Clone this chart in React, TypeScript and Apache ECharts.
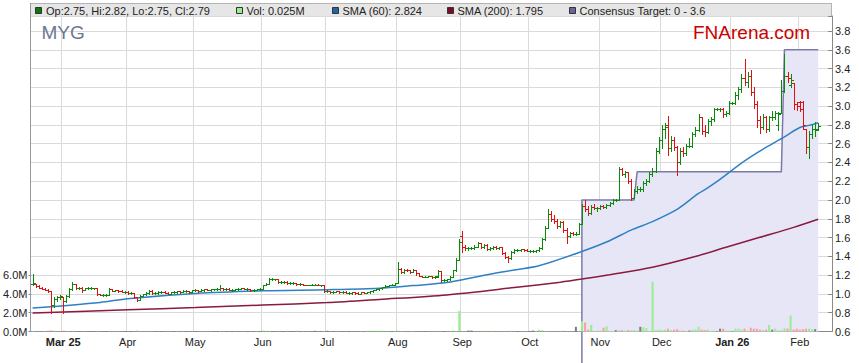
import React, { useEffect, useRef } from 'react';
import * as echarts from 'echarts';

// ---------- data ----------
const START_DATE = Date.UTC(2025, 1, 17); // first weekday shown
const TOTAL_SLOTS = 261; // weekdays on the axis (incl. a few empty ones at the end)

const monthLabels = ['Mar 25', 'Apr', 'May', 'Jun', 'Jul', 'Aug', 'Sep', 'Oct', 'Nov', 'Dec', 'Jan 26', 'Feb'];
const priceMin = 0.6;
const priceMax = 3.96;
const priceStep = 0.2;
const volMax = 6;
const volStep = 2;

// [open, high, low, close]
const ohlc: number[][] = [
  [1.11,1.21,1.10,1.12],[1.11,1.11,1.07,1.08],[1.08,1.09,1.06,1.06],[1.06,1.07,1.05,1.05],[1.05,1.06,1.04,1.04],
  [1.04,1.05,1.02,1.03],[1.03,1.03,0.80,0.88],[0.88,0.97,0.86,0.95],[0.95,0.98,0.93,0.97],[0.97,0.99,0.95,0.98],
  [0.97,0.97,0.80,0.92],[0.92,0.99,0.91,0.98],[0.98,1.06,0.97,1.05],[1.05,1.13,1.04,1.11],[1.11,1.11,1.05,1.06],
  [1.06,1.07,1.05,1.06],[1.06,1.07,1.02,1.04],[1.04,1.06,1.04,1.06],[1.06,1.07,1.05,1.06],[1.06,1.07,1.05,1.06],
  [1.06,1.06,1.05,1.06],[1.06,1.06,0.99,1.00],[1.00,1.00,0.99,0.99],[0.99,1.00,0.98,0.99],[0.99,1.00,0.98,0.99],
  [0.99,1.06,0.99,1.05],[1.05,1.05,1.03,1.03],[1.03,1.04,1.03,1.04],[1.04,1.04,1.02,1.03],[1.03,1.04,1.02,1.02],
  [1.02,1.03,1.01,1.02],[1.02,1.03,1.00,1.01],[1.01,1.02,1.00,1.01],[1.01,1.01,0.96,0.97],[0.97,0.97,0.93,0.94],
  [0.94,0.99,0.94,0.98],[0.98,1.00,0.98,1.00],[1.00,1.02,0.99,1.01],[1.01,1.04,1.00,1.03],[1.03,1.04,1.00,1.01],
  [1.01,1.02,1.00,1.01],[1.01,1.03,1.00,1.02],[1.02,1.03,1.01,1.02],[1.02,1.03,1.01,1.01],[1.01,1.02,1.00,1.00],
  [1.00,1.02,1.00,1.02],[1.02,1.03,1.01,1.02],[1.02,1.03,1.01,1.03],[1.03,1.03,1.01,1.02],[1.02,1.04,1.02,1.03],
  [1.03,1.04,1.02,1.03],[1.03,1.03,1.01,1.02],[1.02,1.04,1.02,1.04],[1.04,1.05,1.03,1.04],[1.04,1.04,1.02,1.03],
  [1.03,1.05,1.03,1.04],[1.04,1.05,1.03,1.05],[1.05,1.05,1.04,1.04],[1.04,1.05,1.03,1.05],[1.05,1.05,1.04,1.05],
  [1.05,1.06,1.04,1.05],[1.05,1.09,1.04,1.06],[1.06,1.06,1.04,1.05],[1.05,1.06,1.04,1.05],[1.05,1.06,1.04,1.04],
  [1.04,1.05,1.03,1.04],[1.04,1.05,1.04,1.05],[1.05,1.06,1.04,1.05],[1.05,1.06,1.05,1.06],[1.06,1.06,1.05,1.05],
  [1.05,1.06,1.04,1.05],[1.05,1.05,1.03,1.04],[1.04,1.05,1.03,1.04],[1.04,1.05,1.04,1.05],[1.05,1.06,1.04,1.05],
  [1.05,1.10,1.05,1.09],[1.09,1.12,1.09,1.11],[1.11,1.17,1.11,1.16],[1.16,1.17,1.15,1.16],[1.16,1.16,1.15,1.16],
  [1.16,1.16,1.12,1.13],[1.13,1.14,1.12,1.13],[1.13,1.14,1.12,1.13],[1.13,1.14,1.11,1.12],[1.12,1.13,1.11,1.12],
  [1.12,1.13,1.11,1.12],[1.12,1.12,1.10,1.11],[1.11,1.12,1.10,1.11],[1.11,1.11,1.09,1.10],[1.10,1.10,1.09,1.09],
  [1.09,1.10,1.09,1.10],[1.10,1.11,1.09,1.10],[1.10,1.11,1.09,1.10],[1.10,1.11,1.09,1.09],[1.09,1.10,1.08,1.09],
  [1.09,1.10,1.02,1.03],[1.03,1.04,1.02,1.03],[1.03,1.03,1.01,1.02],[1.02,1.03,1.01,1.02],[1.02,1.03,1.02,1.03],
  [1.03,1.03,1.01,1.02],[1.02,1.03,1.01,1.02],[1.02,1.03,1.01,1.01],[1.01,1.02,1.00,1.01],[1.01,1.02,1.00,1.02],
  [1.02,1.02,1.00,1.01],[1.01,1.02,1.00,1.00],[1.00,1.02,1.00,1.02],[1.02,1.02,1.01,1.01],[1.01,1.02,1.01,1.02],
  [1.02,1.03,1.01,1.03],[1.03,1.04,1.02,1.04],[1.04,1.05,1.04,1.05],[1.05,1.06,1.04,1.06],[1.06,1.07,1.05,1.07],
  [1.07,1.09,1.07,1.08],[1.08,1.10,1.08,1.10],[1.10,1.11,1.09,1.10],[1.10,1.12,1.10,1.12],[1.12,1.34,1.12,1.27],
  [1.27,1.28,1.22,1.23],[1.23,1.27,1.22,1.26],[1.26,1.27,1.24,1.25],[1.25,1.26,1.22,1.23],[1.23,1.27,1.23,1.26],
  [1.26,1.26,1.20,1.22],[1.22,1.22,1.19,1.19],[1.19,1.19,1.18,1.18],[1.18,1.19,1.18,1.18],[1.18,1.19,1.18,1.19],
  [1.19,1.19,1.17,1.18],[1.18,1.19,1.17,1.19],[1.18,1.25,1.18,1.24],[1.24,1.24,1.13,1.15],[1.15,1.16,1.14,1.15],
  [1.15,1.16,1.14,1.16],[1.16,1.19,1.15,1.18],[1.18,1.26,1.18,1.25],[1.25,1.38,1.24,1.36],[1.36,1.58,1.36,1.55],
  [1.62,1.67,1.45,1.50],[1.50,1.52,1.47,1.49],[1.49,1.50,1.47,1.49],[1.49,1.50,1.48,1.49],[1.49,1.52,1.48,1.50],
  [1.50,1.55,1.50,1.54],[1.54,1.54,1.49,1.50],[1.50,1.53,1.49,1.52],[1.52,1.53,1.47,1.48],[1.48,1.50,1.47,1.49],
  [1.49,1.51,1.48,1.50],[1.50,1.51,1.48,1.49],[1.49,1.50,1.48,1.50],[1.50,1.50,1.43,1.44],[1.44,1.45,1.38,1.39],
  [1.39,1.40,1.34,1.38],[1.38,1.46,1.37,1.45],[1.45,1.48,1.44,1.47],[1.47,1.48,1.46,1.47],[1.47,1.48,1.46,1.48],
  [1.48,1.48,1.46,1.47],[1.47,1.48,1.46,1.46],[1.46,1.47,1.45,1.46],[1.46,1.47,1.45,1.46],[1.46,1.47,1.45,1.47],
  [1.47,1.50,1.46,1.49],[1.49,1.60,1.48,1.58],[1.58,1.72,1.57,1.70],[1.70,1.90,1.70,1.85],[1.85,1.88,1.78,1.80],
  [1.80,1.84,1.76,1.78],[1.78,1.80,1.70,1.72],[1.72,1.78,1.71,1.77],[1.77,1.78,1.66,1.68],[1.68,1.70,1.54,1.62],
  [1.62,1.66,1.61,1.65],[1.65,1.66,1.63,1.64],[1.64,1.66,1.63,1.64],[1.64,1.76,1.64,1.75],[1.75,1.96,1.74,1.94],
  [1.94,2.00,1.88,1.90],[1.90,1.94,1.84,1.86],[1.86,1.95,1.85,1.93],[1.93,1.96,1.90,1.91],[1.91,1.93,1.88,1.92],
  [1.92,1.95,1.90,1.94],[1.94,1.95,1.92,1.93],[1.93,1.96,1.92,1.95],[1.95,1.98,1.94,1.97],[1.97,2.01,1.96,2.00],
  [2.00,2.01,1.99,2.00],[2.00,2.35,2.00,2.33],[2.33,2.34,2.27,2.28],[2.28,2.31,2.25,2.30],[2.30,2.30,2.18,2.20],
  [2.20,2.22,2.00,2.02],[2.02,2.12,2.02,2.10],[2.10,2.15,2.08,2.12],[2.12,2.14,2.10,2.12],[2.12,2.20,2.10,2.18],
  [2.18,2.22,2.16,2.20],[2.20,2.30,2.19,2.28],[2.28,2.34,2.26,2.31],[2.31,2.55,2.30,2.52],[2.52,2.67,2.50,2.64],
  [2.64,2.80,2.55,2.76],[2.76,2.82,2.66,2.78],[2.80,2.90,2.48,2.55],[2.55,2.68,2.52,2.64],[2.64,2.67,2.53,2.56],
  [2.56,2.58,2.27,2.40],[2.40,2.55,2.38,2.52],[2.52,2.56,2.47,2.50],[2.50,2.60,2.48,2.58],[2.58,2.66,2.56,2.58],
  [2.58,2.72,2.57,2.70],[2.70,2.78,2.68,2.75],[2.75,2.92,2.74,2.88],[2.88,2.88,2.70,2.74],[2.74,2.80,2.68,2.72],
  [2.72,2.86,2.71,2.84],[2.84,2.88,2.80,2.86],[2.86,2.98,2.84,2.97],[2.97,2.98,2.96,2.97],[2.97,2.98,2.95,2.97],
  [2.97,2.98,2.88,2.92],[2.92,2.95,2.90,2.93],[2.93,3.05,2.92,3.03],[3.03,3.04,3.02,3.03],[3.03,3.15,3.02,3.12],
  [3.12,3.20,3.08,3.18],[3.18,3.34,3.15,3.30],[3.30,3.50,3.22,3.26],[3.26,3.36,3.20,3.32],[3.32,3.38,3.12,3.15],
  [3.15,3.20,2.98,3.02],[3.02,3.05,2.78,2.85],[2.85,2.90,2.71,2.78],[2.78,2.92,2.76,2.88],[2.88,2.90,2.72,2.76],
  [2.76,2.90,2.74,2.88],[2.88,2.95,2.85,2.88],[2.88,2.95,2.86,2.93],[2.80,2.94,2.75,2.92],[2.93,3.28,2.93,3.16],
  [3.16,3.55,3.15,3.32],[3.32,3.36,3.26,3.30],[3.22,3.34,3.20,3.28],[3.25,3.25,2.97,3.02],[3.02,3.04,2.96,3.00],
  [3.04,3.05,2.95,2.97],[3.04,3.05,2.76,2.80],[2.76,2.76,2.50,2.56],[2.56,2.74,2.45,2.70],[2.70,2.80,2.66,2.76],
  [2.76,2.83,2.68,2.76],[2.75,2.82,2.75,2.79],
];

// daily volume, millions
const volume: number[] = [
  0.04,0.03,0.03,0.03,0.05,0.10,0.12,0.08,0.03,0.03,
  0.10,0.04,0.03,0.05,0.03,0.03,0.04,0.03,0.03,0.03,
  0.03,0.04,0.03,0.03,0.03,0.04,0.03,0.03,0.03,0.03,
  0.03,0.03,0.03,0.04,0.10,0.04,0.03,0.03,0.04,0.03,
  0.03,0.03,0.03,0.03,0.03,0.03,0.03,0.03,0.03,0.03,
  0.03,0.03,0.03,0.03,0.03,0.03,0.03,0.03,0.03,0.03,
  0.03,0.05,0.03,0.03,0.03,0.03,0.03,0.03,0.03,0.03,
  0.03,0.03,0.03,0.03,0.03,0.10,0.08,0.06,0.03,0.03,
  0.04,0.03,0.03,0.08,0.03,0.03,0.08,0.03,0.03,0.03,
  0.03,0.03,0.08,0.03,0.03,0.05,0.08,0.03,0.03,0.03,
  0.03,0.03,0.03,0.03,0.03,0.03,0.03,0.03,0.03,0.08,
  0.08,0.08,0.08,0.08,0.08,0.04,0.04,0.04,0.06,0.10,
  0.05,0.04,0.03,0.03,0.04,0.03,0.03,0.03,0.03,0.03,
  0.03,0.03,0.04,0.05,0.03,0.03,0.04,0.10,0.06,2.20,
  0.06,0.04,0.10,0.10,0.03,0.04,0.03,0.08,0.04,0.03,
  0.08,0.03,0.03,0.04,0.05,0.04,0.08,0.04,0.03,0.03,
  0.03,0.03,0.03,0.10,0.04,0.20,0.15,0.05,0.06,0.04,
  0.04,0.03,0.08,0.08,0.05,0.03,0.03,0.50,0.05,1.10,
  0.95,0.20,0.70,0.05,0.10,0.10,0.40,0.55,0.05,0.05,
  0.15,0.15,0.15,0.10,0.15,0.10,0.15,0.10,0.50,0.45,
  0.35,0.05,5.30,0.15,0.20,0.15,0.20,0.30,0.15,0.20,
  0.25,0.10,0.10,0.05,0.10,0.20,0.20,0.50,0.20,0.15,
  0.20,0.05,0.10,0.05,0.30,0.30,0.10,0.10,0.05,0.30,
  0.30,0.20,0.30,0.10,0.40,0.30,0.30,0.20,0.15,0.20,
  0.70,0.20,0.30,0.10,0.15,0.35,0.30,1.70,0.20,0.30,
  0.20,0.25,0.30,0.30,0.25,0.25,0.025,
];

// [slot index, value]
const sma60: number[][] = [
  [0,0.85],[22,0.91],[31,0.95],[53,1.005],[75,1.033],[96,1.045],[113,1.061],[124,1.089],[135,1.121],
  [146,1.192],[157,1.256],[165,1.30],[179,1.452],[188,1.567],[195,1.68],[202,1.77],[210,1.90],[217,2.07],
  [220,2.13],[224,2.22],[230,2.37],[234,2.46],[239,2.56],[245,2.672],[250,2.772],[253,2.795],[256,2.824],
];
const sma200: number[][] = [
  [0,0.796],[31,0.831],[53,0.855],[75,0.881],[96,0.908],[113,0.942],[135,0.99],[157,1.068],[172,1.125],
  [179,1.158],[188,1.205],[202,1.284],[215,1.39],[226,1.497],[237,1.603],[248,1.709],[256,1.795],
];
const consensus: number[][] = [
  [179,0],[179,2.0],[196,2.0],[197,2.3],[244,2.3],[245,3.6],[256,3.6],
];
const consensusRange = [0, 3.6];

// ---------- helpers ----------
function buildDates(): string[] {
  const out: string[] = [];
  const d = new Date(START_DATE);
  while (out.length < TOTAL_SLOTS) {
    const wd = d.getUTCDay();
    if (wd !== 0 && wd !== 6) out.push(d.toISOString().slice(0, 10));
    d.setUTCDate(d.getUTCDate() + 1);
  }
  return out;
}

const FONT = '"Liberation Sans", Arial, Helvetica, sans-serif';
const UP = '#0a8a0a';
const DOWN = '#dd1111';

export default function App() {
  const ref = useRef<HTMLDivElement>(null);

  useEffect(() => {
    if (!ref.current) return;
    const chart = echarts.init(ref.current, undefined, { renderer: 'svg' });

    const dates = buildDates();
    const labelAt: Record<number, string> = {};
    let k = 0;
    for (let i = 1; i < dates.length; i++) {
      if (dates[i].slice(5, 7) !== dates[i - 1].slice(5, 7)) labelAt[i] = monthLabels[k++];
    }
    const isMonth = (i: number) => labelAt[i] !== undefined;

    const ohlcData = ohlc.map((r, i) => [i, r[0], r[1], r[2], r[3]]);
    const volData = volume.map((v, i) => {
      const r = ohlc[i];
      const col = r[3] > r[0] ? '#96ee8e' : r[3] < r[0] ? '#ff9d9d' : '#7c7c7c';
      return { value: v, itemStyle: { color: col } };
    });

    const last = ohlc[ohlc.length - 1];
    const legend = [
      { color: '#0a7a0a', text: `Op:${last[0].toFixed(2)}, Hi:${last[1].toFixed(2)}, Lo:${last[2].toFixed(2)}, Cl:${last[3].toFixed(2)}`, sx: 35, tx: 46 },
      { color: '#96ee8e', text: `Vol: ${volume[volume.length - 1].toFixed(3)}M`, sx: 236, tx: 246.5 },
      { color: '#1f66a8', text: `SMA (60): ${sma60[sma60.length - 1][1].toFixed(3)}`, sx: 332, tx: 342.5 },
      { color: '#7d0c2c', text: `SMA (200): ${sma200[sma200.length - 1][1].toFixed(3)}`, sx: 447, tx: 457.5 },
      { color: '#66669c', text: `Consensus Target: ${consensusRange[0]} - ${consensusRange[1]}`, sx: 569, tx: 579.5 },
    ];

    const graphics: any[] = [
      { type: 'rect', shape: { x: 31, y: 3, width: 801, height: 13 }, style: { fill: '#e6e6e6' }, z: 0 },
      { type: 'line', shape: { x1: 31, y1: 3.5, x2: 832, y2: 3.5 }, style: { stroke: '#b4b4b4', lineWidth: 1 }, z: 1 },
      { type: 'line', shape: { x1: 30.5, y1: 3, x2: 30.5, y2: 332 }, style: { stroke: '#999', lineWidth: 1 }, z: 1 },
      { type: 'line', shape: { x1: 831.5, y1: 3, x2: 831.5, y2: 16 }, style: { stroke: '#b4b4b4', lineWidth: 1 }, z: 1 },
    ];
    legend.forEach((it) => {
      graphics.push({ type: 'rect', shape: { x: it.sx + 0.5, y: 7.5, width: 6, height: 6 }, style: { fill: it.color, stroke: '#333', lineWidth: 1 }, z: 2 });
      graphics.push({ type: 'text', x: it.tx, y: 10.5, style: { text: it.text, font: `11px ${FONT}`, fill: '#222', verticalAlign: 'middle', align: 'left' }, z: 2 });
    });
    graphics.push({ type: 'text', x: 41.5, y: 32.5, style: { text: 'MYG', font: `19px ${FONT}`, fill: '#6b7890', verticalAlign: 'middle' }, z: 5 });
    graphics.push({ type: 'text', x: 693, y: 32, style: { text: 'FNArena.com', font: `19px ${FONT}`, fill: '#cc0000', verticalAlign: 'middle' }, z: 5 });

    const renderOhlc = (_params: any, api: any) => {
      const i = api.value(0);
      const o = api.value(1), h = api.value(2), l = api.value(3), c = api.value(4);
      const ph = api.coord([i, h]);
      const pl = api.coord([i, l]);
      const po = api.coord([i, o]);
      const pc = api.coord([i, c]);
      const x = Math.round(ph[0]) + 0.5;
      const color = c >= o ? UP : DOWN;
      const st = { stroke: color, lineWidth: 1 };
      const yo = Math.round(po[1]) + 0.5;
      const yc = Math.round(pc[1]) + 0.5;
      return {
        type: 'group',
        children: [
          { type: 'line', shape: { x1: x, y1: Math.round(ph[1]), x2: x, y2: Math.round(pl[1]) + 1 }, style: st },
          { type: 'line', shape: { x1: x - 2.5, y1: yo, x2: x, y2: yo }, style: st },
          { type: 'line', shape: { x1: x, y1: yc, x2: x + 2.5, y2: yc }, style: st },
        ],
      };
    };

    const option: any = {
      animation: false,
      backgroundColor: '#ffffff',
      textStyle: { fontFamily: FONT },
      grid: [
        { left: 31, right: 27, top: 16, bottom: 31.5, containLabel: false },
        { left: 31, right: 27, bottom: 31.5, height: 56.3, containLabel: false },
      ],
      xAxis: [
        {
          type: 'category', gridIndex: 0, data: dates, boundaryGap: true,
          axisLine: { show: true, lineStyle: { color: '#8a8a8a', width: 1 } },
          axisTick: { show: false },
          axisLabel: {
            interval: (i: number) => isMonth(i),
            formatter: (_v: string, i: number) => {
              const s = labelAt[i];
              if (!s) return '';
              return s.indexOf(' ') >= 0 ? `{b|${s}}` : s;
            },
            color: '#222', fontSize: 11, fontFamily: FONT, margin: 5,
            rich: { b: { fontWeight: 'bold', fontSize: 11, color: '#222', fontFamily: FONT } },
          },
          splitLine: { show: true, interval: (i: number) => isMonth(i), lineStyle: { color: '#dadada', width: 1 } },
        },
        {
          type: 'category', gridIndex: 1, data: dates, boundaryGap: true, show: false,
          axisLine: { show: false }, axisTick: { show: false }, axisLabel: { show: false }, splitLine: { show: false },
        },
      ],
      yAxis: [
        {
          type: 'value', gridIndex: 0, position: 'right', min: priceMin, max: priceMax, interval: priceStep,
          axisLine: { show: true, lineStyle: { color: '#8a8a8a', width: 1 } },
          axisTick: { show: true, inside: true, length: 4, lineStyle: { color: '#8a8a8a' } },
          axisLabel: {
            margin: 3, color: '#222', fontSize: 11, fontFamily: FONT,
            formatter: (v: number) => (v > 3.81 ? '' : v.toFixed(1)),
          },
          splitLine: { show: true, lineStyle: { color: '#dadada', width: 1 } },
        },
        {
          type: 'value', gridIndex: 1, position: 'left', min: 0, max: volMax, interval: volStep,
          axisLine: { show: false },
          axisTick: { show: true, length: 3, lineStyle: { color: '#8a8a8a' } },
          axisLabel: { margin: 4, color: '#222', fontSize: 11, fontFamily: FONT, formatter: (v: number) => `${v.toFixed(1)}M` },
          splitLine: { show: false },
        },
      ],
      series: [
        {
          name: 'Consensus Target', type: 'line', xAxisIndex: 0, yAxisIndex: 0, data: consensus,
          showSymbol: false, symbol: 'none', clip: false, silent: true, z: 1,
          lineStyle: { color: '#7a7aaa', width: 1.5 },
          areaStyle: { color: '#e6e6f6', opacity: 1 },
        },
        {
          name: 'Vol', type: 'bar', xAxisIndex: 1, yAxisIndex: 1, data: volData, barWidth: 2, silent: true, z: 2,
        },
        {
          name: 'SMA (200)', type: 'line', xAxisIndex: 0, yAxisIndex: 0, data: sma200, smooth: 0.3,
          showSymbol: false, symbol: 'none', silent: true, z: 3, lineStyle: { color: '#8a1a3e', width: 1.5 },
        },
        {
          name: 'SMA (60)', type: 'line', xAxisIndex: 0, yAxisIndex: 0, data: sma60, smooth: 0.3,
          showSymbol: false, symbol: 'none', silent: true, z: 3, lineStyle: { color: '#2f80c4', width: 1.5 },
        },
        {
          name: 'OHLC', type: 'custom', xAxisIndex: 0, yAxisIndex: 0, data: ohlcData,
          encode: { x: 0, y: [1, 2, 3, 4] }, renderItem: renderOhlc, silent: true, z: 4, clip: true,
        },
      ],
      graphic: graphics,
    };

    chart.setOption(option);
    return () => chart.dispose();
  }, []);

  return <div ref={ref} style={{ position: 'absolute', left: 0, top: 0, width: 859, height: 363 }} />;
}
